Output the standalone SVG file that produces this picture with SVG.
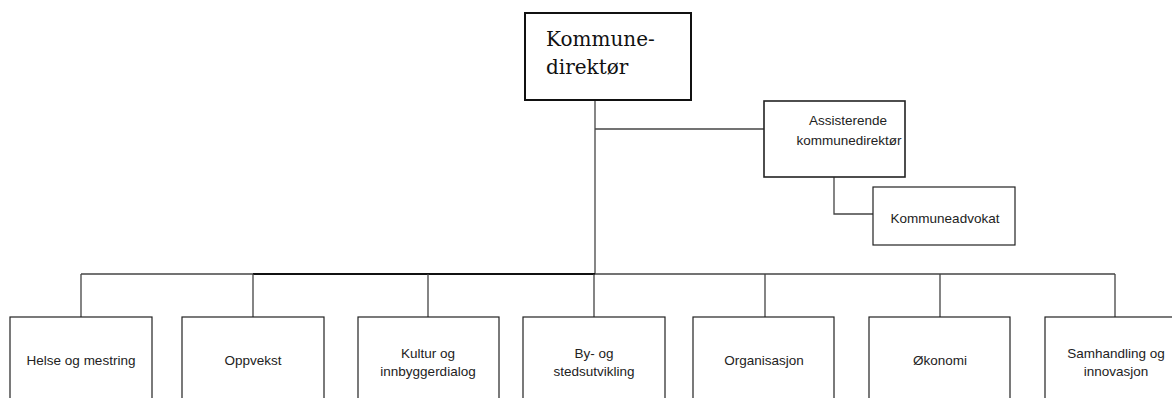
<svg xmlns="http://www.w3.org/2000/svg" width="1172" height="398" viewBox="0 0 1172 398">
<style>
.box{fill:#fff;stroke:#222;stroke-width:1.2}
.top{fill:#fff;stroke:#111;stroke-width:2}
.mid{fill:#fff;stroke:#222;stroke-width:1.6}
.ln{fill:none;stroke:#444;stroke-width:1.3}
.dk{fill:none;stroke:#111;stroke-width:2}
.t{font-family:"Liberation Sans",Arial,sans-serif;font-size:13.5px;fill:#222;text-anchor:middle}
.s{font-family:"DejaVu Serif","Liberation Serif",serif;font-size:20px;fill:#111}
</style>
<rect width="1172" height="398" fill="#fff"/>
<g id="connectors">
<path class="ln" d="M595 100V274"/>
<path class="ln" d="M595 129H765"/>
<path class="ln" d="M834 159V214H873"/>
<path class="ln" d="M81 274H253"/>
<path class="dk" d="M253 274H595"/>
<path class="ln" d="M595 274H1115"/>
<path class="ln" d="M81 274V317M253 274V317M428 274V317M594 274V317M765 274V317M940 274V317M1115 274V317"/>
</g>
<g id="kommunedirektor">
<rect class="top" x="525" y="13" width="166" height="87"/>
<text class="s" x="546" y="46">Kommune-</text>
<text class="s" x="546" y="74">direktør</text>
</g>
<g id="assisterende">
<rect class="mid" x="764" y="101" width="141" height="76"/>
<text class="t" x="848" y="125">Assisterende</text>
<text class="t" x="849" y="145">kommunedirektør</text>
</g>
<g id="kommuneadvokat">
<rect class="box" x="873" y="187" width="142" height="58"/>
<text class="t" x="945" y="223">Kommuneadvokat</text>
</g>
<g id="helse">
<rect class="box" x="10" y="317" width="142" height="100"/>
<text class="t" x="81" y="365">Helse og mestring</text>
</g>
<g id="oppvekst">
<rect class="box" x="182" y="317" width="142" height="100"/>
<text class="t" x="253" y="365">Oppvekst</text>
</g>
<g id="kultur">
<rect class="box" x="358" y="317" width="141" height="100"/>
<text class="t" x="428" y="358">Kultur og</text>
<text class="t" x="428" y="376">innbyggerdialog</text>
</g>
<g id="by">
<rect class="box" x="523" y="317" width="142" height="100"/>
<text class="t" x="594" y="358">By- og</text>
<text class="t" x="594" y="376">stedsutvikling</text>
</g>
<g id="organisasjon">
<rect class="box" x="693" y="317" width="141" height="100"/>
<text class="t" x="764" y="365">Organisasjon</text>
</g>
<g id="okonomi">
<rect class="box" x="869" y="317" width="141" height="100"/>
<text class="t" x="940" y="365">Økonomi</text>
</g>
<g id="samhandling">
<rect class="box" x="1045" y="317" width="142" height="100"/>
<text class="t" x="1116" y="358">Samhandling og</text>
<text class="t" x="1116" y="376">innovasjon</text>
</g>
</svg>
